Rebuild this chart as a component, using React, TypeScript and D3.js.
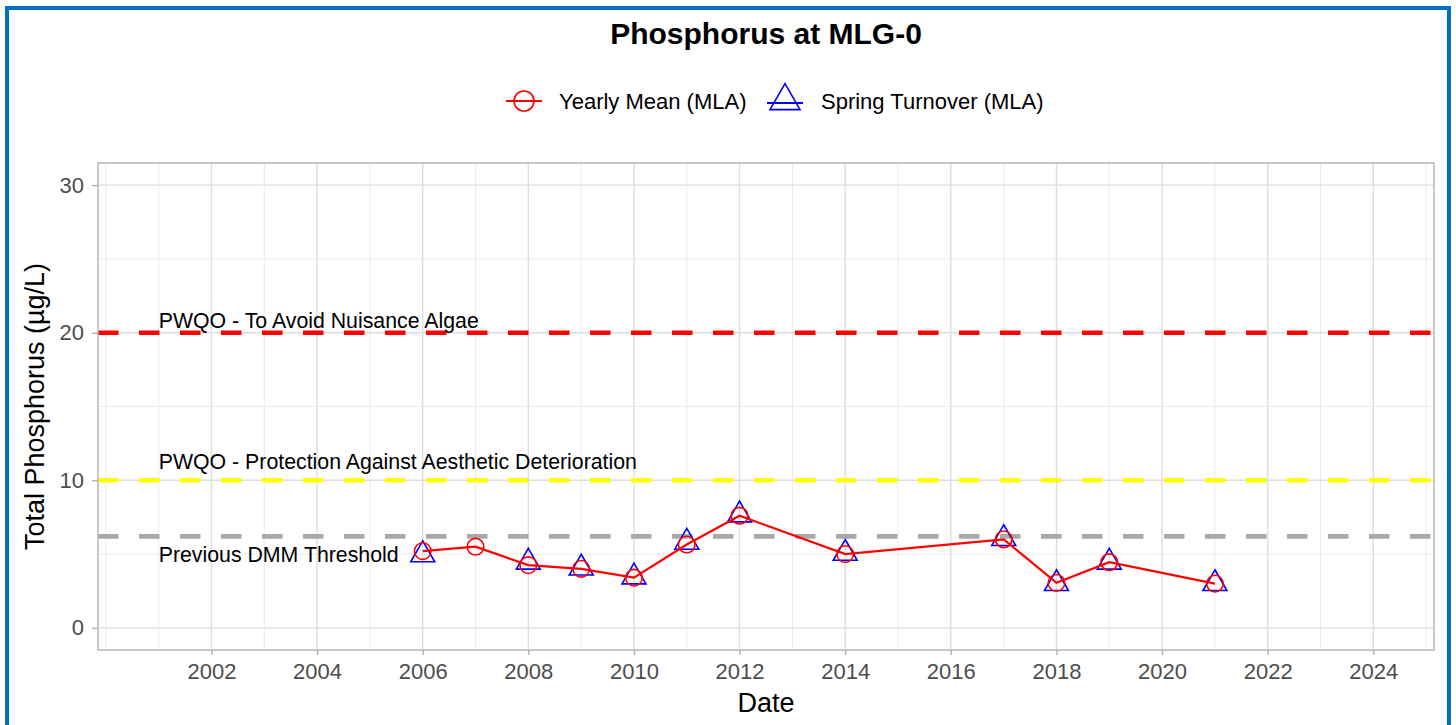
import React, { useRef, useEffect } from 'react';
import * as d3 from 'd3';

const title = 'Phosphorus at MLG-0';

// yearly mean (MLA)
const meanYears = [2006, 2007, 2008, 2009, 2010, 2011, 2012, 2014, 2017, 2018, 2019, 2021];
const meanValues = [5.2, 5.5, 4.25, 4.0, 3.4, 5.65, 7.6, 5.0, 6.0, 3.05, 4.45, 3.0];

// spring turnover (MLA)
const springYears = [2006, 2008, 2009, 2010, 2011, 2012, 2014, 2017, 2018, 2019, 2021];
const springValues = [4.95, 4.45, 4.05, 3.45, 5.8, 7.65, 5.05, 6.05, 3.0, 4.45, 3.0];

// reference lines
const refNames = ['PWQO - To Avoid Nuisance Algae', 'PWQO - Protection Against Aesthetic Deterioration', 'Previous DMM Threshold'];
const refValues = [20, 10, 6.2];
const refColors = ['#ff0000', '#ffff00', '#a9a9a9'];
const refLabelY = [20.85, 11.3, 4.95];
const refLabelYear = 2001;

const xLimits = [2001, 2024];
const yLimits = [0, 30];
const xMajor = [2002, 2004, 2006, 2008, 2010, 2012, 2014, 2016, 2018, 2020, 2022, 2024];
const xMinor = [2000, 2001, 2003, 2005, 2007, 2009, 2011, 2013, 2015, 2017, 2019, 2021, 2023, 2025];
const yMajor = [0, 10, 20, 30];
const yMinor = [5, 15, 25];

const legendNames = ['Yearly Mean (MLA)', 'Spring Turnover (MLA)'];

const FONT = "'Liberation Sans', Arial, Helvetica, sans-serif";

export default function App() {
  const ref = useRef(null);

  useEffect(() => {
    const width = 1456, height = 725;
    const left = 98, right = 1434, top = 163, bottom = 650;
    const svg = d3.select(ref.current);
    svg.selectAll('*').remove();
    svg.attr('width', width).attr('height', height).style('display', 'block').style('font-family', FONT);

    const yr = (y: number) => new Date(y, 0, 1);
    const x0 = yr(xLimits[0]).getTime(), x1 = yr(xLimits[1]).getTime();
    const xpad = (x1 - x0) * 0.05;
    const x = d3.scaleTime().domain([new Date(x0 - xpad), new Date(x1 + xpad)]).range([left, right]);
    const ypad = (yLimits[1] - yLimits[0]) * 0.05;
    const y = d3.scaleLinear().domain([yLimits[0] - ypad, yLimits[1] + ypad]).range([bottom, top]);

    svg.append('rect').attr('x', 0).attr('y', 0).attr('width', width).attr('height', height).attr('fill', '#fff');

    // grid
    const grid = svg.append('g');
    grid.selectAll('.xmin').data(xMinor).join('line')
      .attr('x1', d => x(yr(d))).attr('x2', d => x(yr(d))).attr('y1', top).attr('y2', bottom)
      .attr('stroke', '#e9e9e9').attr('stroke-width', 0.9);
    grid.selectAll('.ymin').data(yMinor).join('line')
      .attr('y1', d => y(d)).attr('y2', d => y(d)).attr('x1', left).attr('x2', right)
      .attr('stroke', '#e9e9e9').attr('stroke-width', 0.9);
    grid.selectAll('.xmaj').data(xMajor).join('line')
      .attr('x1', d => x(yr(d))).attr('x2', d => x(yr(d))).attr('y1', top).attr('y2', bottom)
      .attr('stroke', '#dedede').attr('stroke-width', 1.4);
    grid.selectAll('.ymaj').data(yMajor).join('line')
      .attr('y1', d => y(d)).attr('y2', d => y(d)).attr('x1', left).attr('x2', right)
      .attr('stroke', '#dedede').attr('stroke-width', 1.4);

    // reference lines
    svg.append('g').selectAll('line').data(refValues).join('line')
      .attr('x1', left).attr('x2', right).attr('y1', d => y(d)).attr('y2', d => y(d))
      .attr('stroke', (d, i) => refColors[i]).attr('stroke-width', 4.6)
      .attr('stroke-dasharray', '20.5 20.5');

    svg.append('g').selectAll('text').data(refNames).join('text')
      .attr('x', x(yr(refLabelYear))).attr('y', (d, i) => y(refLabelY[i]))
      .attr('dy', '0.35em').attr('font-size', 21.3).attr('fill', '#000')
      .text(d => d);

    // spring turnover triangles
    const tri = d3.symbol().type(d3.symbolTriangle).size(249);
    svg.append('g').selectAll('path').data(springYears).join('path')
      .attr('d', tri)
      .attr('transform', (d, i) => `translate(${x(yr(d))},${y(springValues[i])})`)
      .attr('fill', 'none').attr('stroke', '#0000ff').attr('stroke-width', 1.6);

    // yearly mean line + circles
    const line = d3.line<number>().x(d => x(yr(d))).y((d, i) => y(meanValues[i]));
    svg.append('path').datum(meanYears).attr('d', line)
      .attr('fill', 'none').attr('stroke', '#ff0000').attr('stroke-width', 2.2);
    svg.append('g').selectAll('circle').data(meanYears).join('circle')
      .attr('cx', d => x(yr(d))).attr('cy', (d, i) => y(meanValues[i])).attr('r', 8.3)
      .attr('fill', 'none').attr('stroke', '#ff0000').attr('stroke-width', 1.6);

    // panel border
    svg.append('rect').attr('x', left).attr('y', top).attr('width', right - left).attr('height', bottom - top)
      .attr('fill', 'none').attr('stroke', '#b3b3b3').attr('stroke-width', 1.4);

    // axes
    const xAxis = svg.append('g').attr('transform', `translate(0,${bottom})`)
      .call(d3.axisBottom(x).tickValues(xMajor.map(yr)).tickFormat(d3.timeFormat('%Y') as any).tickSize(5).tickPadding(8));
    xAxis.select('.domain').remove();
    xAxis.selectAll('line').attr('stroke', '#b3b3b3').attr('stroke-width', 1.4);
    xAxis.selectAll('text').attr('font-size', 22).attr('fill', '#4d4d4d').attr('font-family', FONT);

    const yAxis = svg.append('g').attr('transform', `translate(${left},0)`)
      .call(d3.axisLeft(y).tickValues(yMajor).tickSize(6).tickPadding(8));
    yAxis.select('.domain').remove();
    yAxis.selectAll('line').attr('stroke', '#b3b3b3').attr('stroke-width', 1.4);
    yAxis.selectAll('text').attr('font-size', 22).attr('fill', '#4d4d4d').attr('font-family', FONT);

    // titles
    svg.append('text').attr('x', (left + right) / 2).attr('y', 44).attr('text-anchor', 'middle')
      .attr('font-size', 30).attr('font-weight', 'bold').attr('fill', '#000').text(title);
    svg.append('text').attr('x', (left + right) / 2).attr('y', 712).attr('text-anchor', 'middle')
      .attr('font-size', 27).attr('fill', '#000').text('Date');
    svg.append('text').attr('transform', `translate(44,${(top + bottom) / 2}) rotate(-90)`)
      .attr('text-anchor', 'middle').attr('font-size', 27).attr('fill', '#000').text('Total Phosphorus (µg/L)');

    // legend
    const ly = 101;
    const lg = svg.append('g');
    const k1 = 524, k2 = 785;
    lg.append('line').attr('x1', k1 - 18).attr('x2', k1 + 18).attr('y1', ly).attr('y2', ly)
      .attr('stroke', '#ff0000').attr('stroke-width', 2.2);
    lg.append('circle').attr('cx', k1).attr('cy', ly).attr('r', 10)
      .attr('fill', 'none').attr('stroke', '#ff0000').attr('stroke-width', 1.6);
    lg.append('text').attr('x', 559).attr('y', ly).attr('dy', '0.35em').attr('font-size', 22).attr('fill', '#000').text(legendNames[0]);
    lg.append('line').attr('x1', k2 - 18).attr('x2', k2 + 18).attr('y1', ly + 2).attr('y2', ly + 2)
      .attr('stroke', '#0000ff').attr('stroke-width', 2.2);
    lg.append('path').attr('d', d3.symbol().type(d3.symbolTriangle).size(390)())
      .attr('transform', `translate(${k2},${ly})`)
      .attr('fill', 'none').attr('stroke', '#0000ff').attr('stroke-width', 1.6);
    lg.append('text').attr('x', 821).attr('y', ly).attr('dy', '0.35em').attr('font-size', 22).attr('fill', '#000').text(legendNames[1]);

    // outer frame
    svg.append('rect').attr('x', 7).attr('y', 8).attr('width', 1442).attr('height', 760)
      .attr('fill', 'none').attr('stroke', '#0070c0').attr('stroke-width', 4);
  }, []);

  return (
    <>
      <style>{'body{margin:0;overflow:hidden}'}</style>
      <svg ref={ref} role="img" aria-label="Phosphorus at MLG-0 chart"></svg>
    </>
  );
}
